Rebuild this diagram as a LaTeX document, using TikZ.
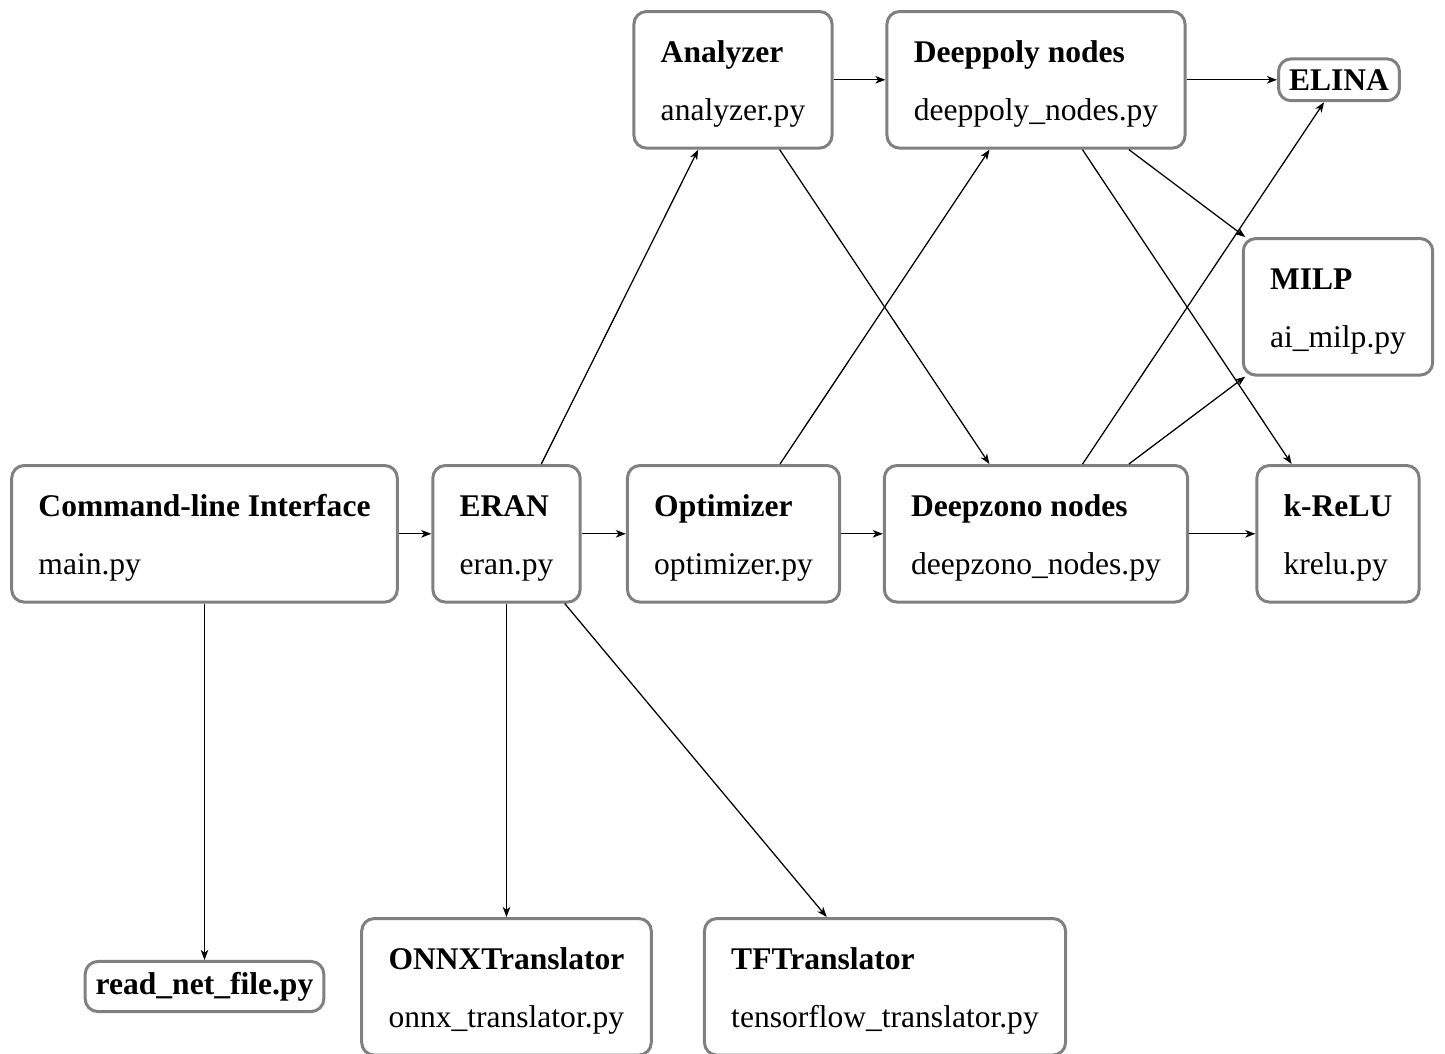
\documentclass[tikz,border=0pt]{standalone}
\usepackage{fontspec}
\setmainfont{Liberation Serif}
\usetikzlibrary{arrows.meta}

\begin{document}
\begin{tikzpicture}[x=0.317pt,y=-0.317pt,
    module/.style={draw=gray,line width=0.95pt,rounded corners=4pt,align=left,anchor=north,
      inner xsep=8.5pt,inner ysep=3.3pt,text height=31.2pt,text depth=5.5pt},
    leaf/.style={draw=gray,line width=0.95pt,rounded corners=4pt,font=\bfseries},
    dep/.style={-{Stealth[length=3.2pt,width=2.4pt,inset=0.9pt]}}]
    \useasboundingbox (0,0) rectangle (1445,1053);
    % middle row
    \node[module] (cli) at (204.5,464) {\textbf{Command-line Interface}\\[6.4pt]main.py};
    \node[module] (eran) at (506.5,464) {\textbf{ERAN}\\[6.4pt]eran.py};
    \node[module] (optimizer) at (733.5,464) {\textbf{Optimizer}\\[6.4pt]optimizer.py};
    \node[module] (deepzono) at (1036,464) {\textbf{Deepzono nodes}\\[6.4pt]deepzono\_nodes.py};
    \node[module] (krelu) at (1338,464) {\textbf{k-ReLU}\\[6.4pt]krelu.py};
    % top row
    \node[module] (analyzer) at (733,10) {\textbf{Analyzer}\\[6.4pt]analyzer.py};
    \node[module] (deeppoly) at (1036,10) {\textbf{Deeppoly nodes}\\[6.4pt]deeppoly\_nodes.py};
    \node[leaf] (elina) at (1339,0 |- deeppoly) {ELINA};
    \node[module] (milp) at (1338,237) {\textbf{MILP}\\[6.4pt]ai\_milp.py};
    % bottom row
    \node[leaf] (readnet) at (204.5,986.5) {read\_net\_file.py};
    \node[module] (onnx) at (506.5,917) {\textbf{ONNXTranslator}\\[6.4pt]onnx\_translator.py};
    \node[module] (tf) at (885,917) {\textbf{TFTranslator}\\[6.4pt]tensorflow\_translator.py};
    % dependencies, centre to centre
    \foreach \a/\b in {cli/eran, eran/optimizer, optimizer/deepzono, deepzono/krelu,
        analyzer/deeppoly, deeppoly/elina, eran/analyzer, analyzer/deepzono,
        optimizer/deeppoly, deeppoly/milp, deeppoly/krelu, deepzono/elina,
        deepzono/milp, cli/readnet, eran/onnx, eran/tf}
        \draw[dep] (\a) -- (\b);
\end{tikzpicture}
\end{document}
